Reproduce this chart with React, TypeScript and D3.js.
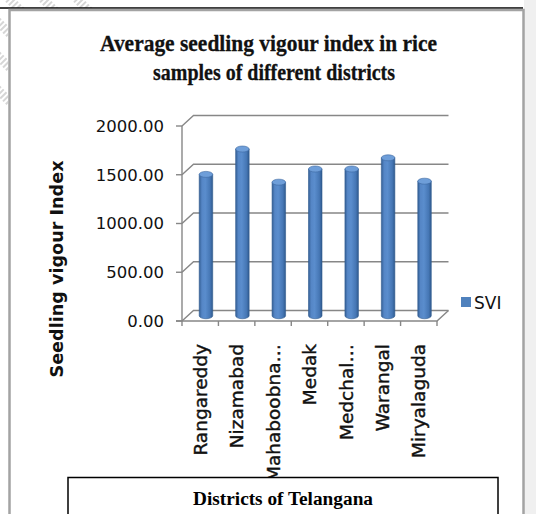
import React from "react";
import * as d3 from "d3";

const categories = ["Rangareddy", "Nizamabad", "Mahaboobna…", "Medak", "Medchal…", "Warangal", "Miryalaguda"];
const sviValues = [1450, 1710, 1370, 1505, 1505, 1620, 1380];
const yTicks = [0, 500, 1000, 1500, 2000];
const titleLines = ["Average seedling vigour index in rice", "samples of different districts"];
const yTitle = "Seedling vigour Index";
const xTitle = "Districts of Telangana";
const seriesName = "SVI";

const W = 536;
const H = 514;

export default function App() {
  const x = d3.scaleBand<string>().domain(categories).range([182, 437]).padding(0);
  const y = d3.scaleLinear().domain([0, 2000]).range([321, 126]);
  const dx = 11.5;
  const dy = -10.5;
  const bw = x.bandwidth();
  const rx = 6.75;
  const ry = 3;
  const gridColor = "#878787";
  const x0 = x.range()[0];
  const x1 = x.range()[1];

  const stripes = d3.range(-3, 3).map((i) => i * 34);

  return (
    <svg width={W} height={H} style={{ position: "absolute", left: 0, top: 0, background: "#fff" }}>
      <defs>
        <linearGradient id="cyl" x1="0" x2="1" y1="0" y2="0">
          <stop offset="0" stopColor="#345f95" />
          <stop offset="0.2" stopColor="#5586c6" />
          <stop offset="0.45" stopColor="#5a8dcd" />
          <stop offset="0.8" stopColor="#4677b5" />
          <stop offset="1" stopColor="#2f5a8e" />
        </linearGradient>
        <clipPath id="margins">
          <rect x={0} y={0} width={100} height={8} />
          <rect x={0} y={0} width={8} height={110} />
        </clipPath>
      </defs>
      <rect x={0} y={0} width={W} height={H} fill="#fff" />
      {/* watermark stripes in margins */}
      <g clipPath="url(#margins)">
        {stripes.map((s, i) => (
          <line key={i} x1={s} y1={-10} x2={s + 140} y2={130} stroke="#d6d6d6" strokeWidth={9} strokeDasharray="2 2" />
        ))}
      </g>
      {/* right gray strip */}
      <rect x={524} y={0} width={12} height={H} fill="#f0f0f0" />
      {/* top black line */}
      <line x1={0} y1={8} x2={523} y2={8} stroke="#000" strokeWidth={1.6} />
      {/* chart border */}
      <rect x={9.5} y={10} width={514} height={H + 10} fill="#fff" stroke="#a3a3a3" strokeWidth={2.5} />

      {/* title */}
      <g fontFamily="'Liberation Serif', 'Times New Roman', serif" fontWeight="bold" fontSize={24} fill="#111" stroke="#111" strokeWidth={0.3}>
        <text x={100} y={51} textLength={337} lengthAdjust="spacingAndGlyphs">{titleLines[0]}</text>
        <text x={153} y={80} textLength={242} lengthAdjust="spacingAndGlyphs">{titleLines[1]}</text>
      </g>

      {/* gridlines (side wall + back wall) */}
      <g stroke={gridColor} strokeWidth={1.4} fill="none">
        {yTicks.map((t) => (
          <polyline
            key={t}
            points={`${x0},${y(t)} ${x0 + dx},${y(t) + dy} ${x1 + dx},${y(t) + dy}`}
          />
        ))}
        {/* floor */}
        <polyline points={`${x0 - 6},${y(0)} ${x1},${y(0)} ${x1 + dx},${y(0) + dy}`} />
        {/* front vertical axis */}
        <line x1={x0} y1={y(2000)} x2={x0} y2={y(0)} />
        {yTicks.map((t) => (
          <line key={"t" + t} x1={x0 - 6} y1={y(t)} x2={x0} y2={y(t)} />
        ))}
        {d3.range(categories.length + 1).map((i) => {
          const xx = x0 + i * bw;
          return <line key={"c" + i} x1={xx} y1={y(0)} x2={xx} y2={y(0) + 5} />;
        })}
      </g>

      {/* y tick labels */}
      <g fontFamily="'DejaVu Sans', sans-serif" fontSize={16.5} fill="#111" textAnchor="end">
        {yTicks.map((t) => (
          <text key={t} x={164} y={y(t)} dy="0.36em">{t.toFixed(2)}</text>
        ))}
      </g>

      {/* cylinders */}
      {categories.map((c, i) => {
        const cx = (x(c) as number) + bw / 2 + dx / 2;
        const yb = y(0) + dy / 2;
        const yt = y(sviValues[i]) + dy / 2;
        const body = `M${cx - rx},${yt} L${cx - rx},${yb} A${rx},${ry} 0 0 0 ${cx + rx},${yb} L${cx + rx},${yt} Z`;
        return (
          <g key={c}>
            <path d={body} fill="url(#cyl)" stroke="#2f5a8e" strokeWidth={0.6} />
            <ellipse cx={cx} cy={yt} rx={rx} ry={ry} fill="#6e9ed9" stroke="#3a679f" strokeWidth={0.6} />
          </g>
        );
      })}

      {/* category labels */}
      <g fontFamily="'DejaVu Sans', sans-serif" fontSize={18.5} fill="#111" stroke="#111" strokeWidth={0.4} textAnchor="end">
        {categories.map((c) => {
          const cx = (x(c) as number) + bw / 2;
          return (
            <text key={c} transform={`translate(${cx},344) rotate(-90)`} dy="0.36em">{c}</text>
          );
        })}
      </g>

      {/* y title */}
      <text
        transform="translate(57,269) rotate(-90)"
        textAnchor="middle"
        dy="0.36em"
        fontFamily="'DejaVu Sans', sans-serif"
        fontWeight="bold"
        fontSize={17}
        textLength={217}
        lengthAdjust="spacingAndGlyphs"
        fill="#111"
      >
        {yTitle}
      </text>

      {/* legend */}
      <rect x={461} y={297} width={10} height={10} fill="#4f81bd" />
      <text x={474} y={309} fontFamily="'DejaVu Sans', sans-serif" fontSize={17} fill="#111">{seriesName}</text>

      {/* x title box */}
      <rect x={68} y={477.5} width={430} height={60} fill="#fff" stroke="#000" strokeWidth={1.5} />
      <text
        x={193}
        y={505}
        fontFamily="'Liberation Serif', 'Times New Roman', serif"
        fontWeight="bold"
        fontSize={18}
        textLength={180}
        lengthAdjust="spacingAndGlyphs"
        fill="#000"
      >
        {xTitle}
      </text>
    </svg>
  );
}
